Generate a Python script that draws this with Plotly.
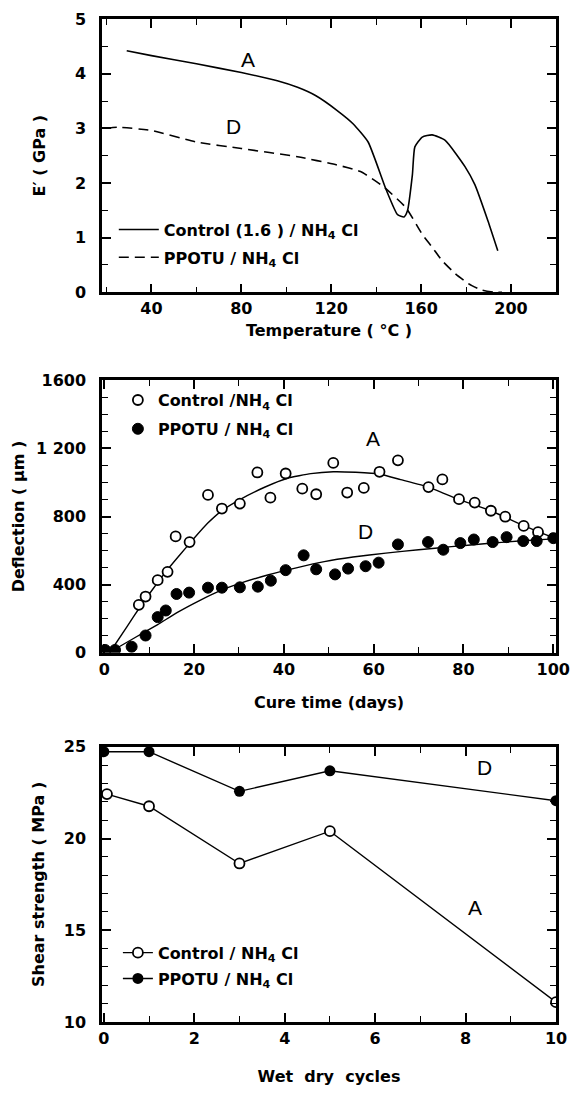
import plotly.graph_objects as go

# ---------------- Panel 1: E' vs temperature ----------------
temp_A = [29, 40, 60, 80, 96, 105, 113, 122.5, 129.8, 136.4, 144.4, 149.5, 152.4, 153.9,
          156.1, 157.2, 160.5, 164.9, 170.7, 179.5, 183.9, 189.7, 194.1]
modulus_A = [4.42, 4.33, 4.18, 4.02, 3.87, 3.75, 3.6, 3.33, 3.08, 2.75, 1.88, 1.42, 1.38, 1.49,
             2.15, 2.66, 2.84, 2.88, 2.78, 2.30, 1.97, 1.31, 0.76]
temp_D = [20, 25, 40, 60, 80, 105, 122.5, 133, 143, 153.2, 160.5, 165, 169.3, 175.2, 181, 187, 192.6, 196]
modulus_D = [3.0, 3.02, 2.96, 2.75, 2.63, 2.48, 2.33, 2.21, 1.94, 1.55, 1.06, 0.82, 0.58, 0.34,
             0.16, 0.04, 0.0, 0.0]

# ---------------- Panel 2: deflection vs cure time ----------------
cure_days_A = [7.7, 9.2, 11.9, 14.1, 15.9, 19.0, 23.1, 26.2, 30.2, 34.1, 37.0, 40.4, 44.1, 47.2,
               51.0, 54.1, 57.8, 61.3, 65.4, 72.2, 75.3, 79.0, 82.5, 86.1, 89.3, 93.4, 96.6]
deflection_A = [281, 330, 426, 475, 683, 650, 927, 847, 876, 1059, 911, 1053, 964, 931,
                1115, 941, 968, 1063, 1130, 973, 1018, 902, 882, 834, 799, 745, 708]
cure_days_D = [0.2, 2.4, 6.1, 9.2, 11.9, 13.7, 16.1, 18.9, 23.1, 26.2, 30.2, 34.2, 37.1, 40.4,
               44.4, 47.2, 51.4, 54.3, 58.2, 61.1, 65.4, 72.1, 75.5, 79.3, 82.3, 86.5, 89.6,
               93.3, 96.3, 100]
deflection_D = [16, 16, 35, 101, 209, 248, 345, 353, 382, 382, 384, 388, 423, 485,
                572, 490, 460, 494, 508, 529, 636, 650, 605, 644, 665, 650, 679,
                656, 656, 673]
fit_days_A = [1.3, 5, 8, 11, 14, 17, 20, 23, 26.2, 30.2, 35.7, 40.8, 46, 51, 56, 61.3, 66,
              72.2, 78.8, 86.1, 93.4, 100]
fit_defl_A = [4, 150, 270, 380, 485, 580, 672, 760, 835, 900, 972, 1025, 1052, 1063, 1060, 1050,
              1017, 973, 902, 834, 746, 675]
fit_days_D = [1.3, 6.6, 11.9, 16.5, 21.1, 25.6, 30.2, 36.6, 43, 49, 55.4, 62.7, 70, 77.3, 84.6,
              92.3, 100]
fit_defl_D = [4, 85, 165, 240, 305, 362, 407, 458, 500, 535, 562, 585, 605, 623, 640, 656, 669]

# ---------------- Panel 3: shear strength vs wet/dry cycles ----------------
cycles_A = [0.07, 1, 3, 5, 10]
shear_A = [22.42, 21.76, 18.64, 20.4, 11.08]
cycles_D = [0, 1, 3, 5, 10]
shear_D = [24.73, 24.73, 22.57, 23.69, 22.06]

defl_tickvals = [0, 400, 800, 1200, 1600]
defl_ticktext = ["0", "400", "800", "1 200", "1600"]

name_ctrl_1 = "Control (1.6 ) / NH<sub>4</sub> Cl"
name_ppotu_1 = "PPOTU / NH<sub>4</sub> Cl"
name_ctrl_2 = "Control /NH<sub>4</sub> Cl"
name_ppotu_2 = "PPOTU / NH<sub>4</sub> Cl"
name_ctrl_3 = "Control / NH<sub>4</sub> Cl"
name_ppotu_3 = "PPOTU / NH<sub>4</sub> Cl"

BOLD = "DejaVu Sans"
PLAIN = "Liberation Sans"

fig = go.Figure()

# Panel 1
fig.add_trace(go.Scatter(x=temp_A, y=modulus_A, mode="lines", name=name_ctrl_1,
                         line=dict(color="black", width=1.6, shape="spline", smoothing=0.5),
                         xaxis="x", yaxis="y", legend="legend", legendgroup="a1"))
fig.add_trace(go.Scatter(x=temp_D, y=modulus_D, mode="lines", name=name_ppotu_1,
                         line=dict(color="black", width=1.6, dash="10px,6px", shape="spline", smoothing=0.5),
                         xaxis="x", yaxis="y", legend="legend", legendgroup="d1"))

# Panel 2 fits
fig.add_trace(go.Scatter(x=fit_days_A, y=fit_defl_A, mode="lines", showlegend=False,
                         line=dict(color="black", width=1.4, shape="spline", smoothing=0.4),
                         xaxis="x2", yaxis="y2"))
fig.add_trace(go.Scatter(x=fit_days_D, y=fit_defl_D, mode="lines", showlegend=False,
                         line=dict(color="black", width=1.4, shape="spline", smoothing=0.4),
                         xaxis="x2", yaxis="y2"))
fig.add_trace(go.Scatter(x=cure_days_A, y=deflection_A, mode="markers", name=name_ctrl_2,
                         marker=dict(symbol="circle", size=10, color="white",
                                     line=dict(color="black", width=1.8)),
                         xaxis="x2", yaxis="y2", legend="legend2", legendgroup="a2"))
fig.add_trace(go.Scatter(x=cure_days_D, y=deflection_D, mode="markers", name=name_ppotu_2,
                         marker=dict(symbol="circle", size=11, color="black",
                                     line=dict(color="black", width=1)),
                         xaxis="x2", yaxis="y2", legend="legend2", legendgroup="d2"))

# Panel 3
fig.add_trace(go.Scatter(x=cycles_A, y=shear_A, mode="lines+markers", name=name_ctrl_3,
                         line=dict(color="black", width=1.4),
                         marker=dict(symbol="circle", size=10, color="white",
                                     line=dict(color="black", width=1.8)),
                         xaxis="x3", yaxis="y3", legend="legend3", legendgroup="a3"))
fig.add_trace(go.Scatter(x=cycles_D, y=shear_D, mode="lines+markers", name=name_ppotu_3,
                         line=dict(color="black", width=1.4),
                         marker=dict(symbol="circle", size=11, color="black"),
                         xaxis="x3", yaxis="y3", legend="legend3", legendgroup="d3"))

tickfont = dict(family=BOLD, size=16, color="black", weight="bold")
titlefont = dict(family=BOLD, size=16, color="black", weight="bold")


def ax(**kw):
    base = dict(showline=True, linewidth=2.5, linecolor="black", mirror="allticks",
                ticks="inside", ticklen=9, tickwidth=1.5, tickcolor="black",
                showgrid=False, zeroline=False, tickfont=tickfont,
                ticklabeloverflow="allow",
                minor=dict(ticks="inside", ticklen=6, tickwidth=1.2, tickcolor="black"))
    minor = kw.pop("minor_dtick", None)
    if minor is not None:
        base["minor"]["dtick"] = minor
    base.update(kw)
    return base


d1 = [0.7275, 1.0]
d2 = [0.3682, 0.6397]
d3 = [0.0, 0.2744]

legfont = dict(family=BOLD, size=16, color="black", weight="bold")

fig.update_layout(
    width=580, height=1093,
    margin=dict(l=102, r=17, t=10, b=70),
    paper_bgcolor="white", plot_bgcolor="white",
    xaxis=ax(domain=[0, 1], anchor="y", range=[18, 220], tick0=40, dtick=40, minor_dtick=20,
             title=dict(text="Temperature ( °C )", font=titlefont, standoff=8)),
    yaxis=ax(domain=d1, anchor="x", range=[0, 5], dtick=1, minor_dtick=0.5,
             ticklabelstandoff=10,
             title=dict(text="E′ ( GPa )", font=titlefont, standoff=26)),
    xaxis2=ax(domain=[0, 1], anchor="y2", range=[-0.5, 100.6], tick0=0, dtick=20, minor_dtick=10,
              title=dict(text="Cure time (days)", font=titlefont, standoff=20)),
    yaxis2=ax(domain=d2, anchor="x2", range=[0, 1600], tickvals=defl_tickvals,
              ticktext=defl_ticktext, minor_dtick=100, ticklabelstandoff=10,
              title=dict(text="Deflection ( µm )", font=titlefont, standoff=8)),
    xaxis3=ax(domain=[0, 1], anchor="y3", range=[-0.04, 10], tick0=0, dtick=2, minor_dtick=1,
              title=dict(text="Wet  dry  cycles", font=titlefont, standoff=24)),
    yaxis3=ax(domain=d3, anchor="x3", range=[10, 25], dtick=5, minor_dtick=1,
              ticklabelstandoff=10,
              title=dict(text="Shear strength ( MPa )", font=titlefont, standoff=16)),
    legend=dict(x=0.026, y=0.807, xanchor="left", yanchor="top", bgcolor="rgba(0,0,0,0)",
                font=legfont, traceorder="grouped", tracegroupgap=4, itemwidth=40),
    legend2=dict(x=0.035, y=0.637, xanchor="left", yanchor="top", bgcolor="rgba(0,0,0,0)",
                 font=legfont, traceorder="grouped", tracegroupgap=5),
    legend3=dict(x=0.035, y=0.086, xanchor="left", yanchor="top", bgcolor="rgba(0,0,0,0)",
                 font=legfont, traceorder="grouped", tracegroupgap=2),
    annotations=[
        dict(x=83, y=4.26, xref="x", yref="y", text="A", showarrow=False,
             font=dict(family=PLAIN, size=21, color="black")),
        dict(x=76.4, y=3.03, xref="x", yref="y", text="D", showarrow=False,
             font=dict(family=PLAIN, size=21, color="black")),
        dict(x=59.8, y=1261, xref="x2", yref="y2", text="A", showarrow=False,
             font=dict(family=PLAIN, size=21, color="black")),
        dict(x=58.1, y=714, xref="x2", yref="y2", text="D", showarrow=False,
             font=dict(family=PLAIN, size=21, color="black")),
        dict(x=8.42, y=23.86, xref="x3", yref="y3", text="D", showarrow=False,
             font=dict(family=PLAIN, size=21, color="black")),
        dict(x=8.2, y=16.25, xref="x3", yref="y3", text="A", showarrow=False,
             font=dict(family=PLAIN, size=21, color="black")),
    ],
)

fig.write_html("out.html", config={"displayModeBar": False},
               post_script="document.body.style.margin='0px';document.body.style.overflow='hidden';")
